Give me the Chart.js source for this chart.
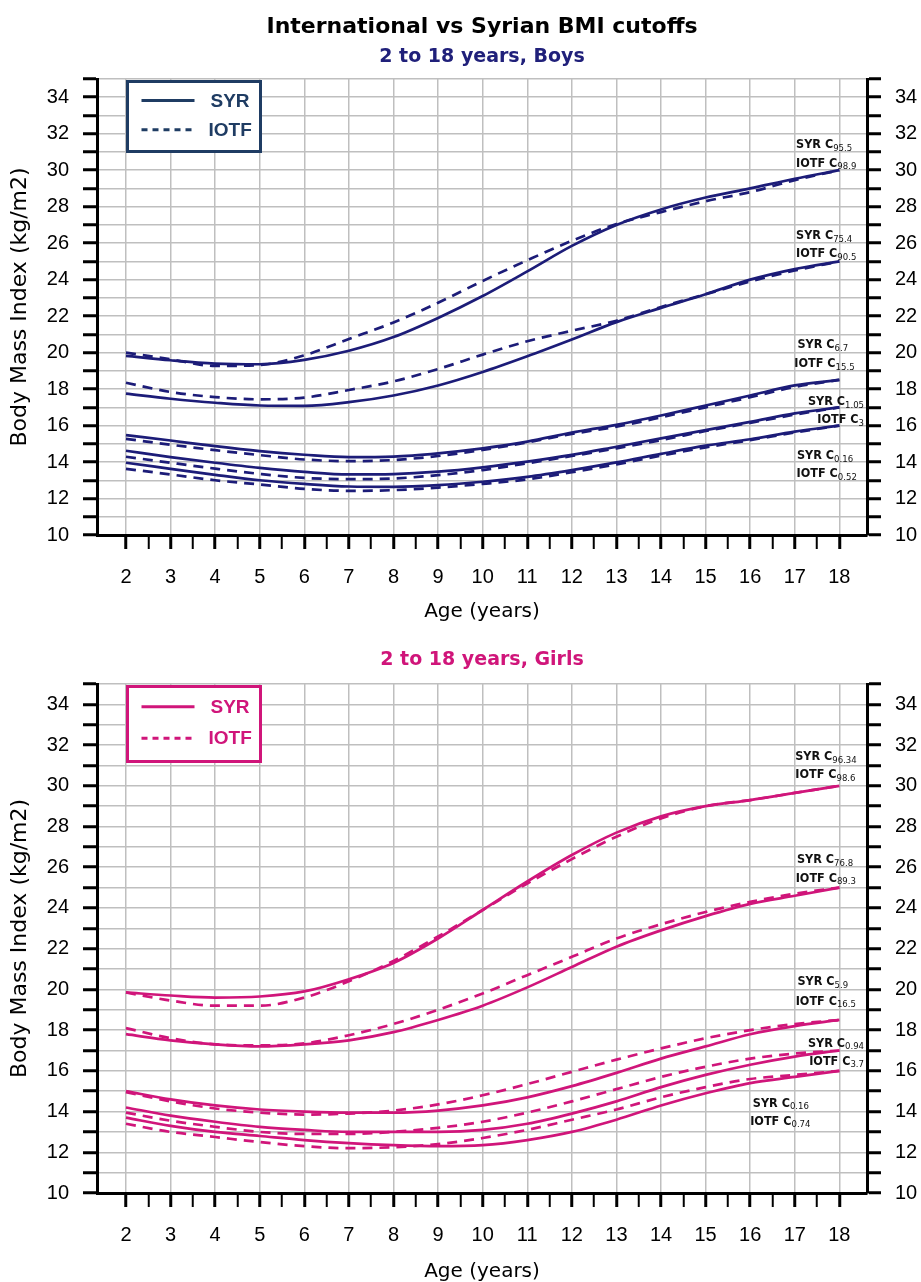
<!DOCTYPE html>
<html>
<head>
<meta charset="utf-8">
<script src="https://cdn.jsdelivr.net/npm/chart.js@4.4.1/dist/chart.umd.min.js"></script>
<style>
  html, body { margin: 0; padding: 0; background: #fff; overflow: hidden; }
  .box { position: relative; width: 921px; }
</style>
</head>
<body>
<div class="box" style="height:640px"><canvas id="boys"></canvas></div>
<div class="box" style="height:660px"><canvas id="girls"></canvas></div>
<script>
// ages on the x axis
const ages = [2, 3, 4, 5, 6, 7, 8, 9, 10, 11, 12, 13, 14, 15, 16, 17, 18]

// boys, BMI per age (SYR = solid, IOTF = dashed)
const boysSyr95 = [19.82, 19.58, 19.40, 19.36, 19.60, 20.10, 20.85, 21.90, 23.10, 24.45, 25.85, 27.00, 27.85, 28.50, 29.00, 29.53, 30.0]
const boysIotf99 = [20.00, 19.63, 19.27, 19.32, 19.85, 20.75, 21.65, 22.73, 23.93, 25.06, 26.13, 27.05, 27.70, 28.30, 28.80, 29.45, 30.0]
const boysSyr75 = [17.75, 17.47, 17.25, 17.10, 17.08, 17.28, 17.65, 18.20, 18.94, 19.80, 20.72, 21.67, 22.45, 23.20, 24.00, 24.58, 25.0]
const boysIotf90 = [18.35, 17.84, 17.56, 17.44, 17.53, 17.95, 18.42, 19.10, 19.89, 20.62, 21.20, 21.75, 22.50, 23.20, 23.90, 24.50, 25.0]
const boysSyr7 = [15.48, 15.18, 14.87, 14.60, 14.40, 14.27, 14.30, 14.48, 14.75, 15.12, 15.61, 16.04, 16.55, 17.10, 17.65, 18.20, 18.5]
const boysIotf15 = [15.27, 14.95, 14.65, 14.38, 14.14, 14.05, 14.11, 14.33, 14.66, 15.08, 15.54, 15.94, 16.45, 17.00, 17.55, 18.12, 18.5]
const boysSyr1 = [14.62, 14.27, 13.96, 13.68, 13.46, 13.32, 13.34, 13.47, 13.71, 14.02, 14.39, 14.84, 15.30, 15.75, 16.20, 16.67, 17.0]
const boysIotf3 = [14.29, 13.96, 13.64, 13.35, 13.13, 13.06, 13.10, 13.28, 13.56, 13.93, 14.33, 14.75, 15.20, 15.70, 16.15, 16.60, 17.0]
const boysSyr0 = [13.96, 13.63, 13.30, 13.00, 12.80, 12.66, 12.64, 12.73, 12.92, 13.19, 13.56, 13.98, 14.45, 14.90, 15.25, 15.67, 16.0]
const boysIotf0 = [13.63, 13.32, 13.00, 12.77, 12.53, 12.42, 12.46, 12.60, 12.80, 13.05, 13.44, 13.87, 14.35, 14.80, 15.20, 15.62, 16.0]

// girls
const girlsSyr96 = [19.85, 19.70, 19.60, 19.65, 19.90, 20.50, 21.30, 22.50, 23.90, 25.30, 26.60, 27.70, 28.50, 29.00, 29.30, 29.65, 30.0]
const girlsIotf98 = [19.85, 19.45, 19.20, 19.20, 19.60, 20.40, 21.40, 22.60, 23.90, 25.20, 26.40, 27.50, 28.40, 29.00, 29.30, 29.65, 30.0]
const girlsSyr76 = [17.80, 17.50, 17.30, 17.20, 17.30, 17.50, 17.90, 18.50, 19.20, 20.10, 21.10, 22.10, 22.90, 23.60, 24.20, 24.60, 25.0]
const girlsIotf89 = [18.10, 17.60, 17.30, 17.25, 17.35, 17.75, 18.30, 19.00, 19.80, 20.70, 21.60, 22.50, 23.20, 23.80, 24.30, 24.70, 25.0]
const girlsSyr6 = [15.00, 14.60, 14.30, 14.10, 14.00, 13.95, 13.95, 14.05, 14.30, 14.70, 15.25, 15.90, 16.60, 17.20, 17.80, 18.20, 18.5]
const girlsIotf16 = [14.95, 14.50, 14.15, 13.95, 13.85, 13.90, 14.05, 14.35, 14.80, 15.35, 15.95, 16.55, 17.10, 17.60, 18.00, 18.30, 18.5]
const girlsSyr1 = [14.20, 13.80, 13.50, 13.25, 13.10, 13.00, 13.00, 13.00, 13.10, 13.40, 13.90, 14.50, 15.20, 15.80, 16.30, 16.70, 17.0]
const girlsIotf4 = [13.95, 13.55, 13.25, 13.00, 12.90, 12.90, 13.00, 13.20, 13.50, 13.95, 14.50, 15.10, 15.70, 16.20, 16.60, 16.85, 17.0]
const girlsSyr0 = [13.70, 13.30, 13.00, 12.80, 12.60, 12.45, 12.35, 12.30, 12.35, 12.60, 13.00, 13.60, 14.30, 14.90, 15.40, 15.70, 16.0]
const girlsIotf0 = [13.40, 13.00, 12.75, 12.50, 12.30, 12.20, 12.25, 12.40, 12.70, 13.10, 13.60, 14.10, 14.70, 15.20, 15.60, 15.80, 16.0]

// centile notes at the right end: [text, subscript, age, bmi]
const boysNotes = [
  ['SYR C', '95.5', 17.03, 31.47], ['IOTF C', '98.9', 17.03, 30.47],
  ['SYR C', '75.4', 17.03, 26.5], ['IOTF C', '90.5', 17.03, 25.5],
  ['SYR C', '6.7', 17.06, 20.51], ['IOTF C', '15.5', 16.99, 19.47],
  ['SYR C', '1.05', 17.68, 17.4], ['IOTF C', '3', 17.68, 16.4],
  ['SYR C', '0.16', 17.05, 14.44], ['IOTF C', '0.52', 17.04, 13.44]
]
const girlsNotes = [
  ['SYR C', '96.34', 17.01, 31.51], ['IOTF C', '98.6', 17.01, 30.61],
  ['SYR C', '76.8', 17.05, 26.44], ['IOTF C', '89.3', 17.02, 25.54],
  ['SYR C', '5.9', 17.06, 20.45], ['IOTF C', '16.5', 17.02, 19.48],
  ['SYR C', '0.94', 17.68, 17.43], ['IOTF C', '3.7', 17.68, 16.54],
  ['SYR C', '0.16', 16.06, 14.49], ['IOTF C', '0.74', 16.0, 13.59]
]

const halfYears = ages.flatMap(a => a < 18 ? [a, a + 0.5] : [a])
const GRID = '#bfbfbf'
const NOTE_FONT = "'Liberation Sans Narrow', 'DejaVu Sans Condensed', 'Liberation Sans', sans-serif"

Chart.defaults.font.family = "'Liberation Sans', Arial, sans-serif"
Chart.defaults.color = '#000'

function pair(syr, iotf, color) {
  const base = { borderColor: color, borderWidth: 2.7, pointRadius: 0, cubicInterpolationMode: 'monotone', fill: false, yAxisID: 'y' }
  return [
    { ...base, label: 'SYR', data: ages.map((a, i) => ({ x: a, y: syr[i] })) },
    { ...base, label: 'IOTF', borderDash: [10, 7], data: ages.map((a, i) => ({ x: a, y: iotf[i] })) }
  ]
}

const decor = {
  id: 'decor',
  afterDraw(chart, args, o) {
    const { ctx, chartArea: a } = chart
    const sx = chart.scales.x, sy = chart.scales.y
    const cx = (a.left + a.right) / 2
    ctx.save()
    ctx.textAlign = 'center'
    ctx.textBaseline = 'middle'
    if (o.title) {
      ctx.fillStyle = '#000'
      ctx.font = "bold 22px 'DejaVu Sans', sans-serif"
      ctx.fillText(o.title, cx, o.titleY)
    }
    ctx.fillStyle = o.color
    ctx.font = "bold 19px 'DejaVu Sans', sans-serif"
    ctx.fillText(o.subtitle, cx, o.subY)

    // legend box
    const bx = a.left + 30.5, by = a.top + 2.5, bw = 133, bh = o.legendH
    ctx.fillStyle = '#fff'
    ctx.fillRect(bx, by, bw, bh)
    ctx.strokeStyle = o.legendColor
    ctx.lineWidth = 3
    ctx.strokeRect(bx, by, bw, bh)
    const r1 = by + bh * 0.27, r2 = by + bh * 0.69
    ctx.lineWidth = 3
    ctx.beginPath(); ctx.moveTo(bx + 14, r1); ctx.lineTo(bx + 67, r1); ctx.stroke()
    ctx.setLineDash([6, 5])
    ctx.beginPath(); ctx.moveTo(bx + 14, r2); ctx.lineTo(bx + 68, r2); ctx.stroke()
    ctx.setLineDash([])
    ctx.fillStyle = o.legendColor
    ctx.textAlign = 'left'
    ctx.font = "bold 19px 'Liberation Sans Narrow', 'Liberation Sans', Arial, sans-serif"
    ctx.fillText('SYR', bx + 83, r1 + 1)
    ctx.fillText('IOTF', bx + 81, r2 + 1)

    // centile notes, kept inside the plot area
    ctx.fillStyle = '#111'
    ctx.textBaseline = 'alphabetic'
    const mainFont = 'bold 12.5px ' + NOTE_FONT, subFont = '9.5px ' + NOTE_FONT
    for (const [main, sub, age, bmi] of o.notes) {
      let px = sx.getPixelForValue(age)
      const py = sy.getPixelForValue(bmi)
      ctx.font = mainFont
      const w = ctx.measureText(main).width
      ctx.font = subFont
      const ws = ctx.measureText(sub).width
      px = Math.min(px, a.right - 3 - w - ws)
      ctx.font = mainFont
      ctx.fillText(main, px, py + 5)
      ctx.font = subFont
      ctx.fillText(sub, px + w, py + 7.5)
    }
    ctx.restore()
  }
}

function yAxis(pos, width, withTitle) {
  return {
    type: 'linear', position: pos, min: 10, max: 35,
    ticks: { stepSize: 1, autoSkip: false, padding: 14, color: '#000', font: { size: 20 },
      callback: v => v % 2 === 0 ? v : '' },
    grid: { color: GRID, lineWidth: 1.5, drawOnChartArea: pos === 'left', tickLength: 14, tickColor: '#000', tickWidth: 3 },
    border: { color: '#000', width: 3 },
    title: { display: withTitle, text: 'Body Mass Index (kg/m2)', color: '#000',
      font: { size: 22, family: "'DejaVu Sans', sans-serif" }, padding: { top: 7, bottom: 0 } },
    afterFit: s => { s.width = width }
  }
}

function makeChart(id, datasets, xHeight, topPad, deco) {
  return new Chart(document.getElementById(id), {
    type: 'line',
    data: { datasets },
    options: {
      animation: false,
      responsive: true,
      maintainAspectRatio: false,
      devicePixelRatio: 1,
      layout: { padding: { top: topPad, left: 0, right: 0, bottom: 0 } },
      scales: {
        x: {
          type: 'linear', min: 1.35, max: 18.62,
          afterBuildTicks: s => { s.ticks = halfYears.map(v => ({ value: v })) },
          ticks: { autoSkip: false, maxRotation: 0, padding: 16, color: '#000', font: { size: 20 },
            callback: v => Number.isInteger(v) ? v : '' },
          grid: {
            color: c => (c.tick && Number.isInteger(c.tick.value)) ? GRID : 'rgba(0,0,0,0)',
            lineWidth: 1.5, tickLength: 14, tickColor: '#000',
            tickWidth: c => (c.tick && Number.isInteger(c.tick.value)) ? 3 : 2
          },
          border: { color: '#000', width: 3 },
          title: { display: true, text: 'Age (years)', color: '#000',
            font: { size: 20, family: "'DejaVu Sans', sans-serif" }, padding: { top: 0, bottom: 16 } },
          afterFit: s => { s.height = xHeight }
        },
        y: yAxis('left', 97, true),
        y2: yAxis('right', 54, false)
      },
      plugins: {
        legend: { display: false },
        tooltip: { enabled: false },
        decor: deco
      }
    },
    plugins: [decor]
  })
}

const BOYS = '#1c1c78'
const GIRLS = '#d0157a'

makeChart('boys', [
  ...pair(boysSyr95, boysIotf99, BOYS), ...pair(boysSyr75, boysIotf90, BOYS),
  ...pair(boysSyr7, boysIotf15, BOYS), ...pair(boysSyr1, boysIotf3, BOYS),
  ...pair(boysSyr0, boysIotf0, BOYS)
], 105, 79, {
  title: 'International vs Syrian BMI cutoffs', titleY: 27,
  subtitle: '2 to 18 years, Boys', subY: 57, color: '#20207a',
  legendColor: '#1f3c63', legendH: 70, notes: boysNotes
})

makeChart('girls', [
  ...pair(girlsSyr96, girlsIotf98, GIRLS), ...pair(girlsSyr76, girlsIotf89, GIRLS),
  ...pair(girlsSyr6, girlsIotf16, GIRLS), ...pair(girlsSyr1, girlsIotf4, GIRLS),
  ...pair(girlsSyr0, girlsIotf0, GIRLS)
], 107, 44, {
  title: '', subtitle: '2 to 18 years, Girls', subY: 20, color: GIRLS,
  legendColor: GIRLS, legendH: 75, notes: girlsNotes
})
</script>
</body>
</html>
